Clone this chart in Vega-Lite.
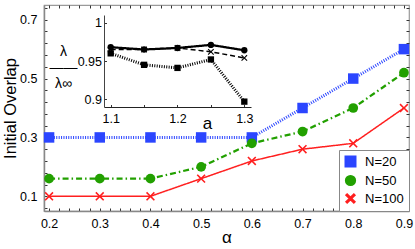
{
  "$schema": "https://vega.github.io/schema/vega-lite/v6.json",
  "width": 365,
  "height": 206,
  "autosize": {"type": "none"},
  "padding": {"left": 44, "top": 5, "right": 6, "bottom": 38},
  "config": {
    "font": "Liberation Sans",
    "view": {"stroke": "#9a9a9a", "strokeWidth": 1.2},
    "axis": {
      "grid": false,
      "labelFontSize": 12.5,
      "labelColor": "#000",
      "titleColor": "#000",
      "titleFontWeight": "normal",
      "tickColor": "#333",
      "labelOverlap": false,
      "labelFlush": false
    },
    "legend": {
      "labelFontSize": 13,
      "labelColor": "#000"
    }
  },
  "datasets": {
    "main": [
      {"series": "N=20", "alpha": 0.2, "overlap": 0.3},
      {"series": "N=20", "alpha": 0.3, "overlap": 0.3},
      {"series": "N=20", "alpha": 0.4, "overlap": 0.3},
      {"series": "N=20", "alpha": 0.5, "overlap": 0.3},
      {"series": "N=20", "alpha": 0.6, "overlap": 0.3},
      {"series": "N=20", "alpha": 0.7, "overlap": 0.4},
      {"series": "N=20", "alpha": 0.8, "overlap": 0.5},
      {"series": "N=20", "alpha": 0.9, "overlap": 0.6},
      {"series": "N=50", "alpha": 0.2, "overlap": 0.16},
      {"series": "N=50", "alpha": 0.3, "overlap": 0.16},
      {"series": "N=50", "alpha": 0.4, "overlap": 0.16},
      {"series": "N=50", "alpha": 0.5, "overlap": 0.2},
      {"series": "N=50", "alpha": 0.6, "overlap": 0.28},
      {"series": "N=50", "alpha": 0.7, "overlap": 0.32},
      {"series": "N=50", "alpha": 0.8, "overlap": 0.4},
      {"series": "N=50", "alpha": 0.9, "overlap": 0.52},
      {"series": "N=100", "alpha": 0.2, "overlap": 0.1},
      {"series": "N=100", "alpha": 0.3, "overlap": 0.1},
      {"series": "N=100", "alpha": 0.4, "overlap": 0.1},
      {"series": "N=100", "alpha": 0.5, "overlap": 0.16},
      {"series": "N=100", "alpha": 0.6, "overlap": 0.22},
      {"series": "N=100", "alpha": 0.7, "overlap": 0.26},
      {"series": "N=100", "alpha": 0.8, "overlap": 0.28},
      {"series": "N=100", "alpha": 0.9, "overlap": 0.4}
    ],
    "inset": [
      {"series": "N=20", "a": 1.1, "ratio": 0.96},
      {"series": "N=20", "a": 1.15, "ratio": 0.945},
      {"series": "N=20", "a": 1.2, "ratio": 0.941},
      {"series": "N=20", "a": 1.25, "ratio": 0.952},
      {"series": "N=20", "a": 1.3, "ratio": 0.897},
      {"series": "N=50", "a": 1.1, "ratio": 0.968},
      {"series": "N=50", "a": 1.15, "ratio": 0.965},
      {"series": "N=50", "a": 1.2, "ratio": 0.967},
      {"series": "N=50", "a": 1.25, "ratio": 0.971},
      {"series": "N=50", "a": 1.3, "ratio": 0.964},
      {"series": "N=100", "a": 1.1, "ratio": 0.965},
      {"series": "N=100", "a": 1.15, "ratio": 0.965},
      {"series": "N=100", "a": 1.2, "ratio": 0.967},
      {"series": "N=100", "a": 1.25, "ratio": 0.962},
      {"series": "N=100", "a": 1.3, "ratio": 0.954}
    ]
  },
  "layer": [
    {
      "data": {"name": "main"},
      "encoding": {
        "x": {
          "field": "alpha", "type": "quantitative",
          "scale": {"domain": [0.19, 0.91], "nice": false, "zero": false},
          "axis": {
            "orient": "bottom",
            "values": [0.2,0.22,0.24,0.26,0.28,0.3,0.32,0.34,0.36,0.38,0.4,0.42,0.44,0.46,0.48,0.5,0.52,0.54,0.56,0.58,0.6,0.62,0.64,0.66,0.68,0.7,0.72,0.74,0.76,0.78,0.8,0.82,0.84,0.86,0.88,0.9],
            "labelExpr": "abs(datum.value*10 - round(datum.value*10)) < 0.001 ? format(datum.value, '.1f') : ''",
            "tickSize": -3,
            "domainColor": "#888",
            "domainWidth": 1.5,
            "labelPadding": 9,
            "title": "α",
            "titleFontSize": 17,
            "titlePadding": 0
          }
        },
        "y": {
          "field": "overlap", "type": "quantitative",
          "scale": {"domain": [0.05, 0.75], "nice": false, "zero": false},
          "axis": {
            "orient": "left",
            "values": [0.06,0.1,0.14,0.18,0.22,0.26,0.3,0.34,0.38,0.42,0.46,0.5,0.54,0.58,0.62,0.66,0.7,0.74],
            "labelExpr": "abs((datum.value-0.1)*5 - round((datum.value-0.1)*5)) < 0.001 ? format(datum.value, '.1f') : ''",
            "tickSize": -3,
            "domainColor": "#888",
            "domainWidth": 1.5,
            "labelPadding": 10,
            "title": "Initial Overlap",
            "titleFontSize": 16.5,
            "titlePadding": 1
          }
        },
        "color": {"field": "series", "type": "nominal",
          "scale": {"domain": ["N=20", "N=50", "N=100"], "range": ["#2b45ff", "#22a000", "#ff1f1f"]},
          "legend": {
            "title": null, "orient": "bottom-right", "offset": 0,
            "strokeColor": "#888", "fillColor": "white", "padding": 5,
            "rowPadding": 2, "labelOffset": 8
          }}
      },
      "layer": [
        {
          "mark": {"type": "line"},
          "encoding": {
            "strokeDash": {"field": "series", "type": "nominal", "legend": null,
              "scale": {"domain": ["N=20", "N=50", "N=100"], "range": [[1, 1.4], [6, 3, 1.5, 3], [1, 0]]}},
            "strokeWidth": {"field": "series", "type": "nominal", "legend": null,
              "scale": {"domain": ["N=20", "N=50", "N=100"], "range": [3, 1.5, 1.5]}}
          }
        },
        {
          "mark": {"type": "point", "filled": true, "opacity": 1},
          "encoding": {
            "shape": {"field": "series", "type": "nominal",
              "scale": {"domain": ["N=20", "N=50", "N=100"], "range": ["square", "circle", "M-1,-0.75L-0.75,-1L0,-0.25L0.75,-1L1,-0.75L0.25,0L1,0.75L0.75,1L0,0.25L-0.75,1L-1,0.75L-0.25,0Z"]},
              "legend": {
                "title": null, "orient": "bottom-right", "offset": 0,
                "strokeColor": "#888", "fillColor": "white", "padding": 5,
                "rowPadding": 2, "labelOffset": 8
              }},
            "size": {"field": "series", "type": "nominal",
              "scale": {"domain": ["N=20", "N=50", "N=100"], "range": [110, 80, 100]},
              "legend": {
                "title": null, "orient": "bottom-right", "offset": 0,
                "strokeColor": "#888", "fillColor": "white", "padding": 5,
                "rowPadding": 2, "labelOffset": 8
              }}
          }
        }
      ]
    },
    {
      "data": {"name": "main"},
      "mark": {"type": "point", "opacity": 0},
      "encoding": {
        "x": {
          "field": "alpha", "type": "quantitative",
          "scale": {"domain": [0.19, 0.91], "nice": false, "zero": false},
          "axis": {
            "orient": "top", "labels": false, "title": null, "domain": false,
            "values": [0.2,0.22,0.24,0.26,0.28,0.3,0.32,0.34,0.36,0.38,0.4,0.42,0.44,0.46,0.48,0.5,0.52,0.54,0.56,0.58,0.6,0.62,0.64,0.66,0.68,0.7,0.72,0.74,0.76,0.78,0.8,0.82,0.84,0.86,0.88,0.9],
            "tickSize": -3
          }
        },
        "y": {
          "field": "overlap", "type": "quantitative",
          "scale": {"domain": [0.05, 0.75], "nice": false, "zero": false},
          "axis": {
            "orient": "right", "labels": false, "title": null, "domain": false,
            "values": [0.06,0.1,0.14,0.18,0.22,0.26,0.3,0.34,0.38,0.42,0.46,0.5,0.54,0.58,0.62,0.66,0.7,0.74],
            "tickSize": -3
          }
        }
      }
    },
    {
      "mark": {"type": "rect", "fill": "white", "stroke": "#999", "strokeWidth": 1.2},
      "encoding": {
        "x": {"datum": 1.09, "type": "quantitative", "axis": null,
          "scale": {"domain": [1.09, 1.31], "nice": false, "zero": false, "range": [60, 207]}},
        "x2": {"datum": 1.31},
        "y": {"datum": 0.89, "type": "quantitative", "axis": null,
          "scale": {"domain": [0.89, 1.01], "nice": false, "zero": false, "range": [102, 10]}},
        "y2": {"datum": 1.01}
      }
    },
    {
      "data": {"name": "inset"},
      "encoding": {
        "x": {
          "field": "a", "type": "quantitative",
          "scale": {"domain": [1.09, 1.31], "nice": false, "zero": false, "range": [60, 207]},
          "axis": {
            "orient": "bottom", "offset": -104,
            "values": [1.1, 1.15, 1.2, 1.25, 1.3],
            "labelExpr": "abs(datum.value*10 - round(datum.value*10)) < 0.001 ? format(datum.value, '.1f') : ''",
            "tickSize": -2.5,
            "domainColor": "#222",
            "labelPadding": 8,
            "title": "a",
            "titleFontSize": 17,
            "titleX": 163,
            "titleY": 21,
            "titleBaseline": "alphabetic",
            "titleAlign": "center"
          }
        },
        "y": {
          "field": "ratio", "type": "quantitative",
          "scale": {"domain": [0.89, 1.01], "nice": false, "zero": false, "range": [102, 10]},
          "axis": {
            "orient": "left", "offset": -60,
            "values": [0.9, 0.95, 1],
            "format": "~g",
            "tickSize": -2.5,
            "domainColor": "#444",
            "labelPadding": 5,
            "title": ["λ", "——", "λ∞"],
            "titleFontSize": 14,
            "titleLineHeight": 16,
            "titleAngle": 0,
            "titleAlign": "center",
            "titleBaseline": "middle",
            "titleX": -41,
            "titleY": 46
          }
        }
      },
      "layer": [
        {
          "mark": {"type": "line", "color": "black"},
          "encoding": {
            "strokeDash": {"field": "series", "type": "nominal", "legend": null,
              "scale": {"domain": ["N=20", "N=50", "N=100"], "range": [[1, 1.4], [1, 0], [5, 3]]}},
            "strokeWidth": {"field": "series", "type": "nominal", "legend": null,
              "scale": {"domain": ["N=20", "N=50", "N=100"], "range": [3, 1.5, 1.5]}}
          }
        },
        {
          "mark": {"type": "point", "filled": true, "opacity": 1, "color": "black", "size": 40},
          "encoding": {
            "shape": {"field": "series", "type": "nominal",
              "scale": {"domain": ["N=20", "N=50", "N=100"], "range": ["square", "circle", "M-1,-0.75L-0.75,-1L0,-0.25L0.75,-1L1,-0.75L0.25,0L1,0.75L0.75,1L0,0.25L-0.75,1L-1,0.75L-0.25,0Z"]}}
          }
        }
      ]
    }
  ],
  "resolve": {
    "scale": {"x": "independent", "y": "independent", "strokeDash": "independent", "strokeWidth": "independent"},
    "axis": {"x": "independent", "y": "independent"}
  }
}
